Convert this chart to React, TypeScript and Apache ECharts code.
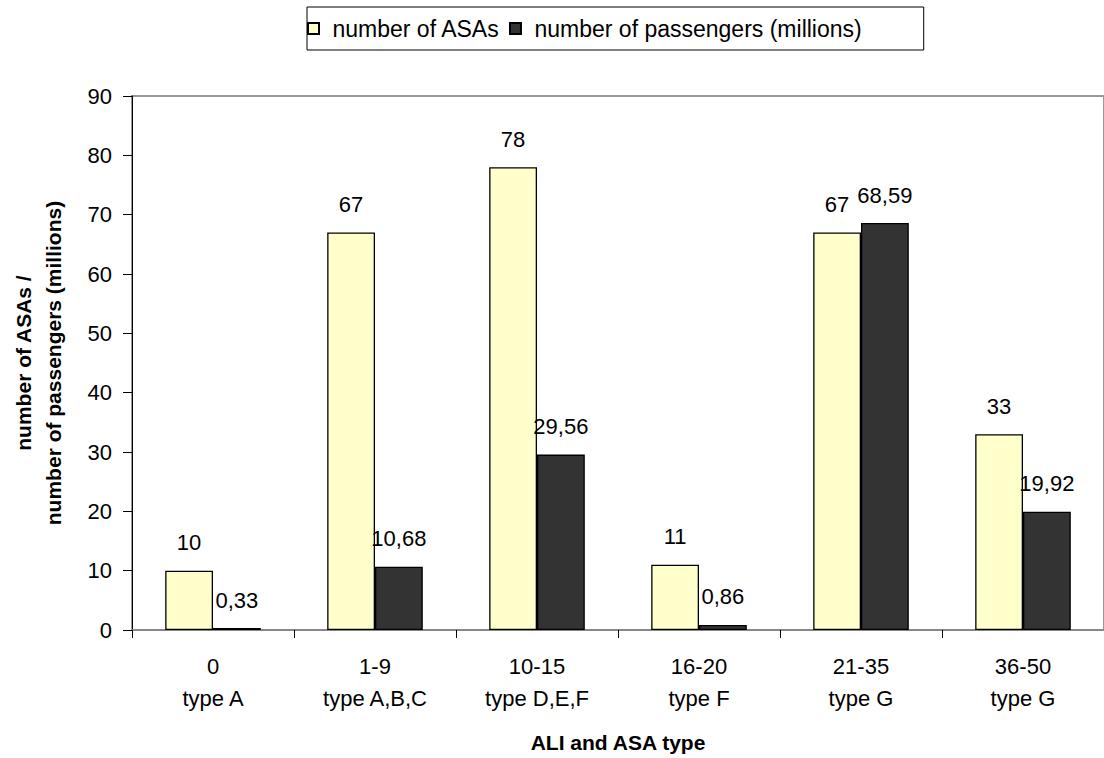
import React, { useEffect, useRef } from "react";
import * as echarts from "echarts";

const categories = ["0\ntype A", "1-9\ntype A,B,C", "10-15\ntype D,E,F", "16-20\ntype F", "21-35\ntype G", "36-50\ntype G"];
const asaCounts = [10, 67, 78, 11, 67, 33];
const passengers = [0.33, 10.68, 29.56, 0.86, 68.59, 19.92];
const seriesNames = ["number of ASAs", "number of passengers (millions)"];
const yTitle = "number of ASAs /\nnumber of passengers (millions)";
const xTitle = "ALI and ASA type";

const FONT = "Arial, 'Liberation Sans', sans-serif";

export default function App() {
  const ref = useRef<HTMLDivElement>(null);
  useEffect(() => {
    if (!ref.current) return;
    const chart = echarts.init(ref.current, null, { renderer: "svg" });
    const fmt = (p: any) => String(p.value).replace(".", ",");
    const labelCfg = {
      show: true,
      position: "top",
      distance: 17,
      fontSize: 22,
      color: "#000",
      fontFamily: FONT,
      formatter: fmt,
    };
    chart.setOption({
      animation: false,
      backgroundColor: "#fff",
      textStyle: { fontFamily: FONT },
      legend: {
        top: 7,
        left: 307,
        orient: "horizontal",
        borderColor: "#000",
        borderWidth: 1,
        padding: [10, 62, 10, 0],
        itemWidth: 28,
        itemHeight: 11,
        itemGap: 9,
        icon: "path://M0,0L10,0L10,10L0,10Z",
        symbolKeepAspect: true,
        textStyle: { fontSize: 23, color: "#000", fontFamily: FONT },
        data: seriesNames,
      },
      grid: {
        left: 127,
        right: -2,
        top: 96,
        bottom: 126,
        show: true,
        borderColor: "#999",
        borderWidth: 2,
        containLabel: false,
      },
      xAxis: {
        type: "category",
        data: categories,
        boundaryGap: true,
        axisLine: { show: true, lineStyle: { color: "#888", width: 2 } },
        axisTick: { show: true, length: 8, lineStyle: { color: "#000" } },
        axisLabel: {
          fontSize: 22,
          color: "#000",
          lineHeight: 32,
          margin: 20,
          fontFamily: FONT,
          interval: 0,
        },
        name: xTitle,
        nameLocation: "middle",
        nameGap: 102,
        nameTextStyle: { fontSize: 21, fontWeight: "bold", color: "#000", fontFamily: FONT },
      },
      yAxis: {
        type: "value",
        min: 0,
        max: 90,
        interval: 10,
        axisLine: { show: true, lineStyle: { color: "#000", width: 1 } },
        axisTick: { show: true, length: 9, lineStyle: { color: "#000" } },
        splitLine: { show: false },
        axisLabel: { fontSize: 22, color: "#000", margin: 20, fontFamily: FONT },
        name: yTitle,
        nameLocation: "middle",
        nameRotate: 90,
        nameGap: 64,
        nameTextStyle: { fontSize: 21, fontWeight: "bold", color: "#000", lineHeight: 30, fontFamily: FONT },
      },
      series: [
        {
          name: seriesNames[0],
          type: "bar",
          data: asaCounts,
          barGap: "0%",
          barCategoryGap: "41%",
          itemStyle: { color: "#FFFFCC", borderColor: "#000", borderWidth: 1.3 },
          label: labelCfg,
        },
        {
          name: seriesNames[1],
          type: "bar",
          data: passengers,
          barGap: "0%",
          barCategoryGap: "41%",
          itemStyle: { color: "#333333", borderColor: "#000", borderWidth: 1.3 },
          label: labelCfg,
        },
      ],
    });
    return () => chart.dispose();
  }, []);
  return (
    <div
      ref={ref}
      style={{ position: "fixed", left: 0, top: 0, width: 1104, height: 758, background: "#fff" }}
    />
  );
}
